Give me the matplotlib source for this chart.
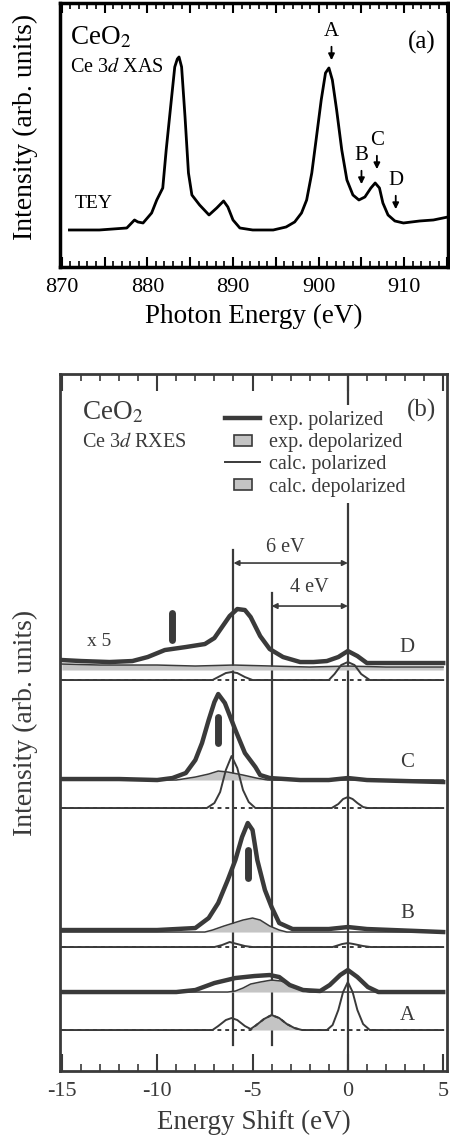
import numpy as np
import matplotlib
matplotlib.use("Agg")
import matplotlib.pyplot as plt
from matplotlib.ticker import MultipleLocator, FuncFormatter
from matplotlib.lines import Line2D
from matplotlib.patches import Patch, Rectangle
from matplotlib.legend_handler import HandlerPatch

plt.rcParams['font.family'] = ['Liberation Serif', 'DejaVu Serif']
plt.rcParams['mathtext.fontset'] = 'stix'

# ---- (a) Ce 3d XAS, TEY ----
xas_energy = [870.9, 874.4, 877.6, 878.5, 878.9, 879.5, 880.5, 881.1, 881.8, 882.2,
              882.8, 883.2, 883.5, 883.7, 884.0, 884.4, 884.8, 885.2, 886.1, 887.2,
              888.1, 888.9, 889.4, 890.0, 890.8, 892.3, 894.7, 896.2, 897.2, 898.0,
              898.6, 899.2, 899.7, 900.3, 900.8, 901.2, 901.6, 902.1, 902.7, 903.3,
              904.0, 904.7, 905.4, 906.1, 906.6, 907.1, 907.5, 908.1, 908.9, 909.9,
              911.8, 913.4, 915.1]
xas_int = [37, 37, 39, 47, 45, 44, 54, 67, 79, 117,
           167, 200, 208, 210, 200, 150, 94, 72, 62, 52,
           59, 66, 60, 47, 39, 37, 37, 40, 45, 54,
           67, 94, 127, 167, 194, 199, 187, 157, 117, 87,
           72, 67, 70, 79, 84, 79, 64, 52, 46, 44,
           46, 47, 50]

xas_marks = ["A", "B", "C", "D"]
xas_mark_energy = [901.5, 905.0, 906.8, 909.0]
xas_mark_tip = [204, 80, 95, 55]

# ---- (b) Ce 3d RXES ----
rows = ["D", "C", "B", "A"]
exp_offset = [409, 291, 141, 79]
exp_dep_offset = [401, 291, 139, 79]
calc_offset = [391, 263, 124, 41]

exp_pol_e = [
    [-15, -14, -12.5, -11.3, -10.5, -9.6, -8.5, -7.5, -7.0, -6.6, -6.2, -5.8, -5.4, -5.1,
     -4.6, -4.1, -3.4, -2.5, -1.8, -1.1, -0.5, 0, 0.5, 1.0, 2, 5],
    [-15, -12, -10, -9.2, -8.5, -8.0, -7.65, -7.3, -7.0, -6.8, -6.45, -5.9, -5.4, -4.85,
     -4.6, -4.1, -2.5, -1, 0, 1, 5],
    [-15, -10, -8.0, -7.3, -6.8, -6.3, -5.9, -5.55, -5.25, -5.0, -4.75, -4.35, -4.0, -3.6,
     -2.9, -1, 0, 1, 5],
    [-15, -9, -8.0, -7.0, -5.9, -4.9, -4.1, -3.6, -3.05, -2.35, -1.45, -0.95, -0.4, 0,
     0.5, 1.05, 1.6, 5],
]
exp_pol_i = [
    [2, 1, 0, 1, 5, 12, 15, 18, 24, 35, 46, 53, 52, 45, 26, 13, 5, 0, 0, 1, 5, 11, 6, -1, -1, -1],
    [1, 1, 0, 2, 7, 20, 37, 60, 78, 86, 77, 50, 27, 13, 5, 2, 0, 0, 2, 0, -2],
    [0, 0, 2, 12, 27, 50, 70, 93, 107, 100, 70, 40, 23, 7, 1, 1, 3, 1, -2],
    [0, 0, 2, 9, 14, 16, 17, 15, 7, 2, 1, 7, 17, 22, 15, 5, 0, 0],
]

exp_dep_e = [
    [-15, -13, -10, -8, -6, -4, -2, 0, 2, 5],
    [-15, -9.0, -8, -7.3, -6.8, -6.3, -5.5, -4.8, -4.2, 5],
    [-15, -7.5, -7.1, -6.5, -6.0, -5.5, -5.0, -4.6, -4.1, -3.6, -3.2, 5],
    [-15, -6.3, -5.9, -5.5, -5.1, -4.6, -4.0, -3.5, -3.2, -2.8, -2.5, -2.0, 5],
]
exp_dep_i = [
    [6, 5, 5, 4, 5, 4, 3, 4, 3, 3],
    [0, 0, 3, 6, 9, 8, 5, 2, 0, 0],
    [0, 0, 2, 6, 9, 12, 14, 12, 6, 2, 0, 0],
    [0, 0, 1, 4, 8, 10, 12, 11, 9, 5, 2, 0, 0],
]

calc_pol_e = [
    [-15, -7.1, -6.8, -6.4, -6.1, -5.8, -5.4, -5.0, -1.0, -0.7, -0.35, 0, 0.35, 0.7, 1.15, 5],
    [-15, -7.4, -7.0, -6.7, -6.4, -6.1, -5.8, -5.5, -5.2, -4.85, -0.85, -0.5, -0.25, 0,
     0.25, 0.5, 0.8, 1.05, 5],
    [-15, -7.0, -6.6, -6.2, -5.8, -5.4, -5.0, -0.8, -0.3, 0, 0.3, 0.8, 1.2, 5],
    [-15, -7.1, -6.8, -6.4, -6.1, -5.8, -5.4, -5.1, -4.8, -4.4, -4.0, -3.6, -3.2, -2.8,
     -2.4, -1.1, -0.8, -0.5, -0.25, 0, 0.25, 0.5, 0.8, 1.15, 5],
]
calc_pol_i = [
    [0, 0, 3, 7, 8, 7, 3, 0, 0, 6, 15, 18, 15, 6, 0, 0],
    [0, 0, 5, 16, 38, 52, 40, 18, 6, 0, 0, 4, 9, 11, 9, 5, 1, 0, 0],
    [0, 0, 2, 5, 3, 1, 0, 0, 3, 4, 3, 1, 0, 0],
    [0, 0, 4, 10, 12, 10, 4, 1, 5, 11, 15, 12, 6, 2, 0, 0, 5, 20, 38, 48, 38, 20, 6, 0, 0],
]

calc_dep_e = [
    [-15, 5],
    [-15, 5],
    [-15, 5],
    [-15, -5.1, -4.8, -4.4, -4.0, -3.6, -3.2, -2.8, -2.4, 5],
]
calc_dep_i = [
    [0, 0],
    [0, 0],
    [0, 0],
    [0, 0, 5, 11, 15, 12, 6, 2, 0, 0],
]

# thick bars marking the peak positions (D, C, B)
bar_e = [-9.2, -6.8, -5.25]
bar_lo = [431, 328, 193]
bar_hi = [458, 354, 221]

label_y = [424, 309, 158, 56]

ink = '#3a3a3a'
fill_c = '#c4c4c4'


def small_box(legend, orig_handle, xdescent, ydescent, width, height, fontsize):
    # narrow gray square centred in the handle area
    w = width * 0.5
    h = height * 0.75
    return Rectangle((xdescent + (width - w) / 2, ydescent + (height - h) / 2), w, h)


fig = plt.figure(figsize=(4.5, 11.4), dpi=100)

# ================= panel (a) =================
ax1 = fig.add_axes([0.1333, 0.7658, 0.8622, 0.2316])
ax1.plot(xas_energy, xas_int, color='black', lw=2.0)
ax1.set_xlim(869.8, 915.1)
ax1.set_ylim(0, 264)
ax1.xaxis.set_major_locator(MultipleLocator(5))
ax1.xaxis.set_minor_locator(MultipleLocator(1))
ax1.xaxis.set_major_formatter(FuncFormatter(lambda v, p: f"{v:.0f}" if round(v) % 10 == 0 else ""))
ax1.tick_params(axis='x', which='both', direction='in', top=True, bottom=True, labelsize=16, pad=8)
ax1.tick_params(axis='x', which='major', length=7, width=1.5)
ax1.tick_params(axis='x', which='minor', length=4, width=1.2)
ax1.set_yticks([])
for s in ax1.spines.values():
    s.set_linewidth(2.5)
ax1.set_xlabel("Photon Energy (eV)", fontsize=19.5, labelpad=5)
ax1.set_ylabel("Intensity (arb. units)", fontsize=20)
ax1.yaxis.set_label_coords(-0.057, 0.53)

for m, e, tip in zip(xas_marks, xas_mark_energy, xas_mark_tip):
    ax1.annotate("", xy=(e, tip), xytext=(e, tip + 19),
                 arrowprops=dict(arrowstyle='-|>', color='black', lw=1.3, mutation_scale=9))
    ax1.text(e, tip + 31, m, ha='center', va='center', fontsize=15)

ax1.text(0.026, 0.868, "CeO$_2$", transform=ax1.transAxes, fontsize=19.5, va='center')
ax1.text(0.026, 0.754, "Ce 3$d$ XAS", transform=ax1.transAxes, fontsize=14.5, va='center')
ax1.text(0.039, 0.239, "TEY", transform=ax1.transAxes, fontsize=14, va='center')
ax1.text(0.933, 0.852, "(a)", transform=ax1.transAxes, fontsize=18, va='center', ha='center')

# ================= panel (b) =================
ax2 = fig.add_axes([0.1333, 0.0605, 0.86, 0.6114])
ax2.set_xlim(-15.1, 5.2)
ax2.set_ylim(0, 697)

ax2.axvline(0, color=ink, lw=1.6, zorder=1)
ax2.plot([-6, -6], [26, 521], color=ink, lw=1.6, zorder=1)
ax2.plot([-4, -4], [26, 478], color=ink, lw=1.6, zorder=1)

for k in range(4):
    # calc depolarized: dotted baseline + gray fill
    ce = np.array(calc_dep_e[k])
    ci = np.array(calc_dep_i[k]) + calc_offset[k]
    ax2.fill_between(ce, calc_offset[k], ci, color=fill_c, lw=0, zorder=2)
    ax2.plot(ce, ci, color=ink, lw=1.4, ls=(0, (2, 2)), zorder=3)
    # calc polarized
    ax2.plot(calc_pol_e[k], np.array(calc_pol_i[k]) + calc_offset[k], color=ink, lw=1.4, zorder=4)
    # exp depolarized
    de = np.array(exp_dep_e[k])
    di = np.array(exp_dep_i[k]) + exp_dep_offset[k]
    ax2.fill_between(de, exp_dep_offset[k], di, color=fill_c, lw=0, zorder=2)
    ax2.plot(de, di, color=ink, lw=1.1, zorder=3)
    # exp polarized
    ax2.plot(exp_pol_e[k], np.array(exp_pol_i[k]) + exp_offset[k], color=ink, lw=3.2, zorder=5)
    ax2.text(3.1, label_y[k], rows[k], fontsize=15, color=ink, ha='center', va='center')

for e, lo, hi in zip(bar_e, bar_lo, bar_hi):
    ax2.plot([e, e], [lo, hi], color=ink, lw=5, solid_capstyle='round', zorder=6)

ax2.text(-13.05, 430, "x 5", fontsize=14, color=ink, ha='center', va='center')

# energy separations
ax2.annotate("", xy=(-6, 508), xytext=(0, 508),
             arrowprops=dict(arrowstyle='<|-|>', color=ink, lw=1.2, mutation_scale=8, shrinkA=0, shrinkB=0))
ax2.text(-3.3, 524, "6 eV", fontsize=14.5, color=ink, ha='center', va='center')
ax2.annotate("", xy=(-4, 465), xytext=(0, 465),
             arrowprops=dict(arrowstyle='<|-|>', color=ink, lw=1.2, mutation_scale=8, shrinkA=0, shrinkB=0))
ax2.text(-2.0, 484, "4 eV", fontsize=14.5, color=ink, ha='center', va='center')

ax2.text(-13.95, 658, "CeO$_2$", fontsize=19.5, color=ink, va='center')
ax2.text(-13.95, 629, "Ce 3$d$ RXES", fontsize=14.5, color=ink, va='center')
ax2.text(3.85, 661, "(b)", fontsize=18, color=ink, ha='center', va='center', zorder=12)

handles = [Line2D([], [], color=ink, lw=3.2),
           Patch(facecolor=fill_c, edgecolor=ink, lw=1.2),
           Line2D([], [], color=ink, lw=1.4),
           Patch(facecolor=fill_c, edgecolor=ink, lw=1.2)]
labels = ["exp. polarized", "exp. depolarized", "calc. polarized", "calc. depolarized"]
leg = ax2.legend(handles, labels, loc='upper left', bbox_to_anchor=(0.385, 0.97),
                 fontsize=14.5, frameon=True, framealpha=1, facecolor='white', edgecolor='none',
                 handlelength=1.75, handletextpad=0.45, labelspacing=0.15, borderpad=0.3,
                 handler_map={Patch: HandlerPatch(patch_func=small_box)})
for t in leg.get_texts():
    t.set_color(ink)
leg.set_zorder(10)

ax2.xaxis.set_major_locator(MultipleLocator(5))
ax2.xaxis.set_minor_locator(MultipleLocator(1))
ax2.xaxis.set_major_formatter(FuncFormatter(lambda v, p: f"{v:.0f}"))
ax2.tick_params(axis='x', which='both', direction='in', top=True, bottom=True,
                labelsize=16, pad=8, color=ink, labelcolor=ink)
ax2.tick_params(axis='x', which='major', length=12, width=1.5)
ax2.tick_params(axis='x', which='minor', length=5, width=1.2)
ax2.set_yticks([])
for s in ax2.spines.values():
    s.set_linewidth(2)
    s.set_color(ink)
ax2.set_xlabel("Energy Shift (eV)", fontsize=19.5, color=ink, labelpad=6)
ax2.set_ylabel("Intensity (arb. units)", fontsize=20, color=ink)
ax2.yaxis.set_label_coords(-0.057, 0.5)

fig.savefig("out.png", dpi=100)
